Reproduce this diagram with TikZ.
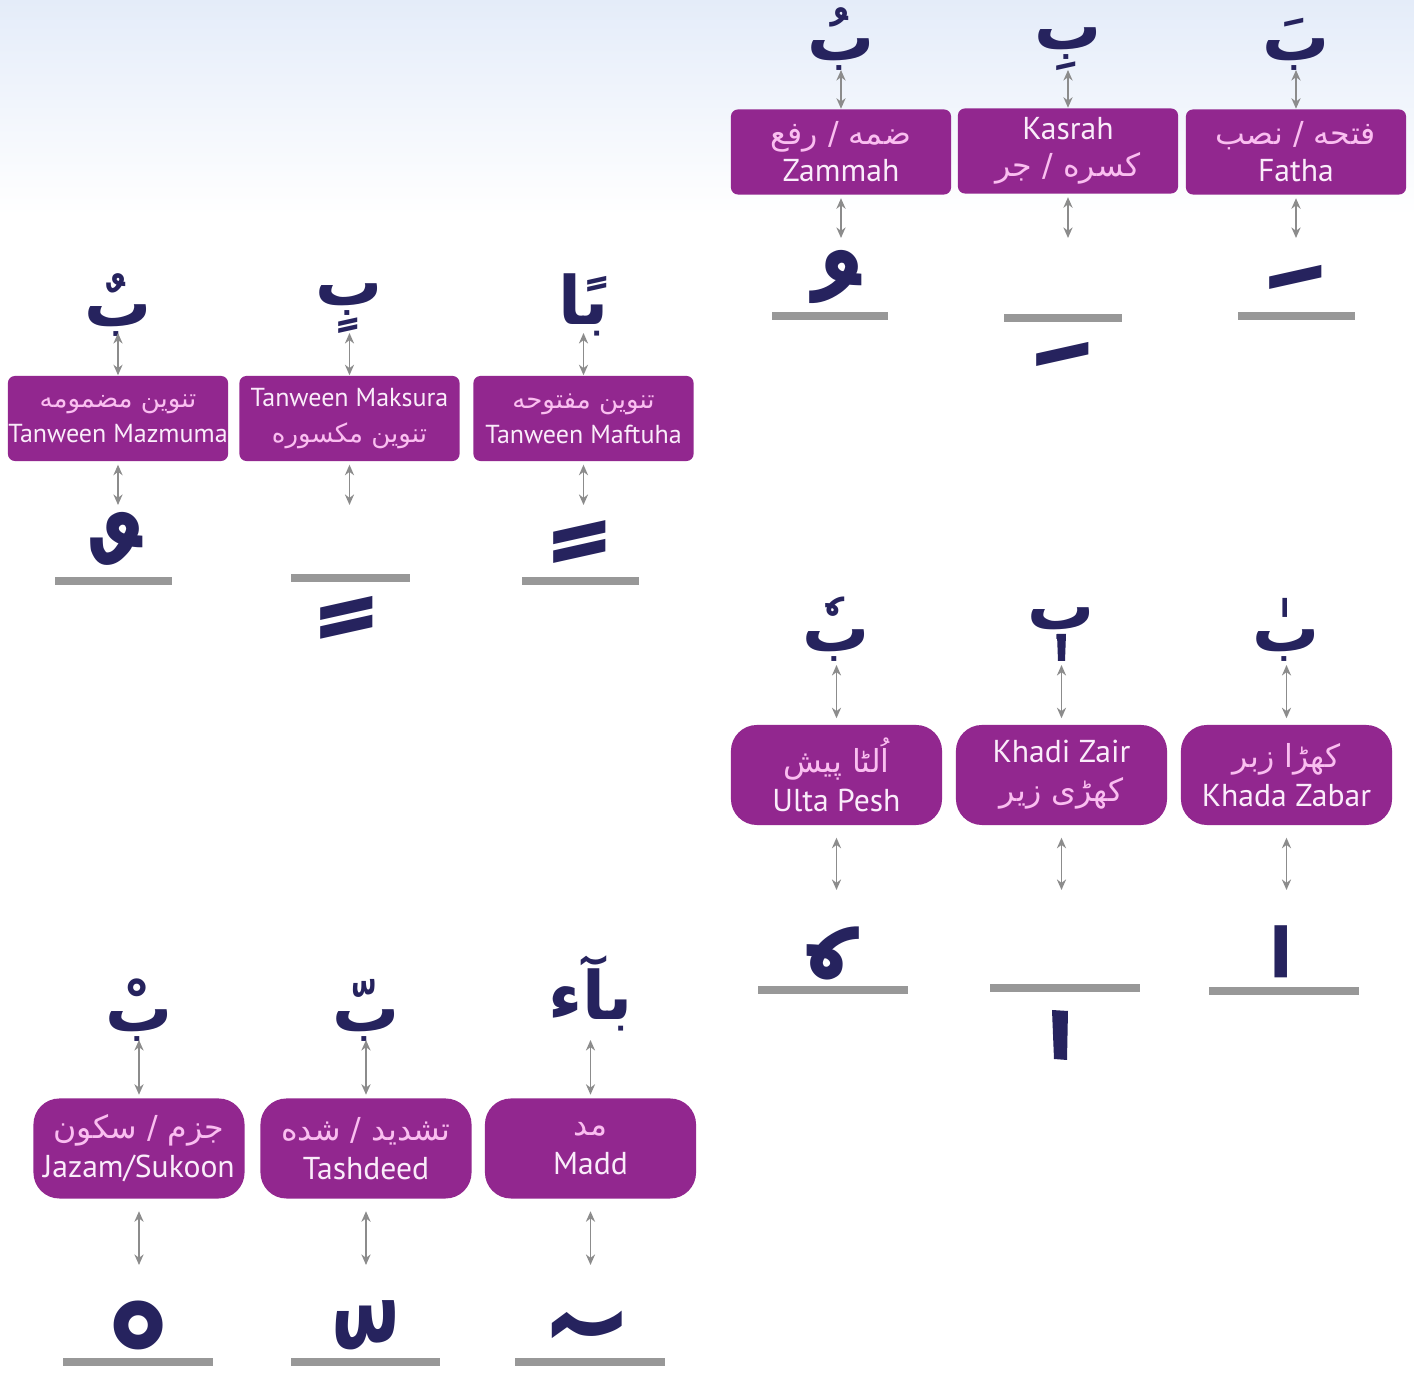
\documentclass[tikz,border=0pt]{standalone}
\usepackage{fontspec}
\usepackage{xcolor}
\setmainfont{PT Sans}
\newfontfamily\urdufont[Script=Arabic]{DejaVu Sans}
\TeXXeTstate=1
\usetikzlibrary{arrows.meta}
\definecolor{boxpurple}{RGB}{146,39,143}
\definecolor{inkblue}{RGB}{38,35,94}
\definecolor{urdupink}{RGB}{250,190,240}
\definecolor{labelwhite}{RGB}{250,236,250}
\definecolor{linkgray}{RGB}{140,140,140}
\definecolor{bargray}{RGB}{152,152,152}
\definecolor{skyblue}{RGB}{228,236,249}
\newcommand{\urdu}[1]{{\urdufont\color{urdupink}\beginR #1\endR}}
\newcommand{\mrk}[1]{\raisebox{-0.5em}[\dimexpr\height-0.5em\relax][0pt]{#1}}
\newcommand{\mrkn}[1]{\mrk{^^^^00a0#1}}

\begin{document}
\begin{tikzpicture}[x=0.01cm,y=-0.01cm,
  flat/.style={fill=boxpurple,rounded corners=0.07cm,minimum width=2.2cm,minimum height=0.85cm,align=center,text=labelwhite,inner sep=0pt,font=\fontsize{9}{10.5}\selectfont},
  small/.style={font=\fontsize{7.4}{10}\selectfont},
  pill/.style={flat,rounded corners=0.26cm,minimum width=2.11cm,minimum height=1cm,font=\fontsize{9}{11}\selectfont},
  letter/.style={text=inkblue,font=\urdufont\bfseries\fontsize{19}{24}\selectfont,inner sep=0pt,anchor=south},
  upper/.style={text=inkblue,font=\urdufont\bfseries\fontsize{52}{52}\selectfont,inner sep=0pt,anchor=north},
  lower/.style={upper,anchor=south},
  floating/.style={upper,xshift=-0.17cm},
  link/.style={draw=linkgray,line width=0.5pt,{Stealth[length=3pt,width=2.6pt]}-{Stealth[length=3pt,width=2.6pt]}},
  bar/.style={draw=bargray,line width=0.085cm}]
\fill[white] (0,0) rectangle (1414,1374);
\shade[top color=skyblue,bottom color=white] (0,0) rectangle (1414,215);
\useasboundingbox (0,0) rectangle (1414,1374);

\node[letter] (zammahLetter) at (841,71) {بُ};
\node[letter] (kasrahLetter) at (1068,71) {بِ};
\node[letter] (fathaLetter) at (1296,71) {بَ};
\node[flat] (zammahBox) at (841,152) {\urdu{ضمه / رفع}\\Zammah};
\node[flat] (kasrahBox) at (1068,151) {Kasrah\\\urdu{کسره / جر}};
\node[flat] (fathaBox) at (1296,152) {\urdu{فتحه / نصب}\\Fatha};
\coordinate (zammahTip) at (841,70);
\coordinate (kasrahTip) at (1068,70);
\coordinate (fathaTip) at (1296,70);
\coordinate (zammahEnd) at (841,238);
\coordinate (kasrahEnd) at (1068,238);
\coordinate (fathaEnd) at (1296,238);
\draw[link] (zammahTip) -- (zammahBox);
\draw[link] (kasrahTip) -- (kasrahBox);
\draw[link] (fathaTip) -- (fathaBox);
\draw[link,shorten <=0.03cm] (zammahBox) -- (zammahEnd);
\draw[link,shorten <=0.03cm] (kasrahBox) -- (kasrahEnd);
\draw[link,shorten <=0.03cm] (fathaBox) -- (fathaEnd);
\node[upper] (zammahMark) at (836,250) {\mrk{^^^^fe78}};
\node[lower] (kasrahMark) at (1063,367) {^^^^fe7a};
\node[upper] (fathaMark) at (1296,265) {\mrk{^^^^fe76}};
\draw[bar] (772,316) -- (888,316);
\draw[bar] (1004,318) -- (1122,318);
\draw[bar] (1238,316) -- (1355,316);

\node[letter] (mazmumaLetter) at (118,337) {بٌ};
\node[letter] (maksuraLetter) at (349.5,334) {بٍ};
\node[letter] (maftuhaLetter) at (583.5,337) {بًا};
\node[flat,small] (mazmumaBox) at (118,418.5) {\urdu{تنوین مضمومه}\\Tanween Mazmuma};
\node[flat,small] (maksuraBox) at (349.5,418.5) {Tanween Maksura\\\urdu{تنوین مکسوره}};
\node[flat,small] (maftuhaBox) at (583.5,418.5) {\urdu{تنوین مفتوحه}\\Tanween Maftuha};
\coordinate (mazmumaTip) at (118,333);
\coordinate (maksuraTip) at (349.5,333);
\coordinate (maftuhaTip) at (583.5,333);
\coordinate (mazmumaEnd) at (118,505);
\coordinate (maksuraEnd) at (349.5,505);
\coordinate (maftuhaEnd) at (583.5,505);
\draw[link] (mazmumaTip) -- (mazmumaBox);
\draw[link] (maksuraTip) -- (maksuraBox);
\draw[link] (maftuhaTip) -- (maftuhaBox);
\draw[link,shorten <=0.03cm] (mazmumaBox) -- (mazmumaEnd);
\draw[link,shorten <=0.03cm] (maksuraBox) -- (maksuraEnd);
\draw[link,shorten <=0.03cm] (maftuhaBox) -- (maftuhaEnd);
\node[upper] (mazmumaMark) at (117,512) {\mrk{^^^^fe72}};
\node[lower] (maksuraMark) at (347,640) {^^^^fe74};
\node[upper] (maftuhaMark) at (580,520) {\mrk{^^^^fe70}};
\draw[bar] (55,581) -- (172,581);
\draw[bar] (291,578) -- (410,578);
\draw[bar] (522,581) -- (639,581);

\node[letter] (ultaPeshLetter) at (836.5,662) {بٗ};
\node[letter] (khadiZairLetter) at (1061.5,640) {ب};
\node[letter] (khadaZabarLetter) at (1286.5,662) {بٰ};
\fill[inkblue] (1057,634) -- (1066,634) -- (1065,661) -- (1058,661) -- cycle;
\node[pill] (ultaPeshBox) at (836.5,775) {\urdu{اُلٹا پیش}\\Ulta Pesh};
\node[pill] (khadiZairBox) at (1061.5,775) {Khadi Zair\\\urdu{کھڑی زیر}};
\node[pill] (khadaZabarBox) at (1286.5,775) {\urdu{کھڑا زبر}\\Khada Zabar};
\coordinate (ultaPeshTip) at (836.5,665);
\coordinate (khadiZairTip) at (1061.5,665);
\coordinate (khadaZabarTip) at (1286.5,665);
\coordinate (ultaPeshEnd) at (836.5,890);
\coordinate (khadiZairEnd) at (1061.5,890);
\coordinate (khadaZabarEnd) at (1286.5,890);
\draw[link,shorten >=0.06cm] (ultaPeshTip) -- (ultaPeshBox);
\draw[link,shorten >=0.06cm] (khadiZairTip) -- (khadiZairBox);
\draw[link,shorten >=0.06cm] (khadaZabarTip) -- (khadaZabarBox);
\draw[link,shorten <=0.12cm] (ultaPeshBox) -- (ultaPeshEnd);
\draw[link,shorten <=0.12cm] (khadiZairBox) -- (khadiZairEnd);
\draw[link,shorten <=0.12cm] (khadaZabarBox) -- (khadaZabarEnd);
\node[floating] (ultaPeshMark) at (836,925) {\mrkn{ٗ}};
\node[floating] (khadaZabarMark) at (1284,925) {\mrkn{ٰ}};
\fill[inkblue] (1052,1010) -- (1068,1011) -- (1067,1060) -- (1054,1059) -- cycle;
\draw[bar] (758,990) -- (908,990);
\draw[bar] (990,988) -- (1140,988);
\draw[bar] (1209,991) -- (1359,991);

\node[letter] (jazamLetter) at (139,1042) {بْ};
\node[letter] (tashdeedLetter) at (366,1042) {بّ};
\node[letter] (maddLetter) at (590.5,1032) {بآء};
\node[pill] (jazamBox) at (139,1148.5) {\urdu{جزم / سکون}\\Jazam/Sukoon};
\node[pill] (tashdeedBox) at (366,1148.5) {\urdu{تشدید / شده}\\Tashdeed};
\node[pill] (maddBox) at (590.5,1148.5) {\urdu{مد}\\Madd};
\coordinate (jazamTip) at (139,1040);
\coordinate (tashdeedTip) at (366,1040);
\coordinate (maddTip) at (590.5,1040);
\coordinate (jazamEnd) at (139,1265);
\coordinate (tashdeedEnd) at (366,1265);
\coordinate (maddEnd) at (590.5,1265);
\draw[link,shorten >=0.03cm] (jazamTip) -- (jazamBox);
\draw[link,shorten >=0.03cm] (tashdeedTip) -- (tashdeedBox);
\draw[link,shorten >=0.03cm] (maddTip) -- (maddBox);
\draw[link,shorten <=0.12cm] (jazamBox) -- (jazamEnd);
\draw[link,shorten <=0.12cm] (tashdeedBox) -- (tashdeedEnd);
\draw[link,shorten <=0.12cm] (maddBox) -- (maddEnd);
\node[upper] (jazamMark) at (139,1300) {\mrk{^^^^fe7e}};
\node[upper] (tashdeedMark) at (366,1300) {\mrk{^^^^fe7c}};
\node[floating] (maddMark) at (590,1310) {\mrkn{ٓ}};
\draw[bar] (63,1362) -- (213,1362);
\draw[bar] (291,1362) -- (440,1362);
\draw[bar] (515,1362) -- (665,1362);
\end{tikzpicture}
\end{document}
